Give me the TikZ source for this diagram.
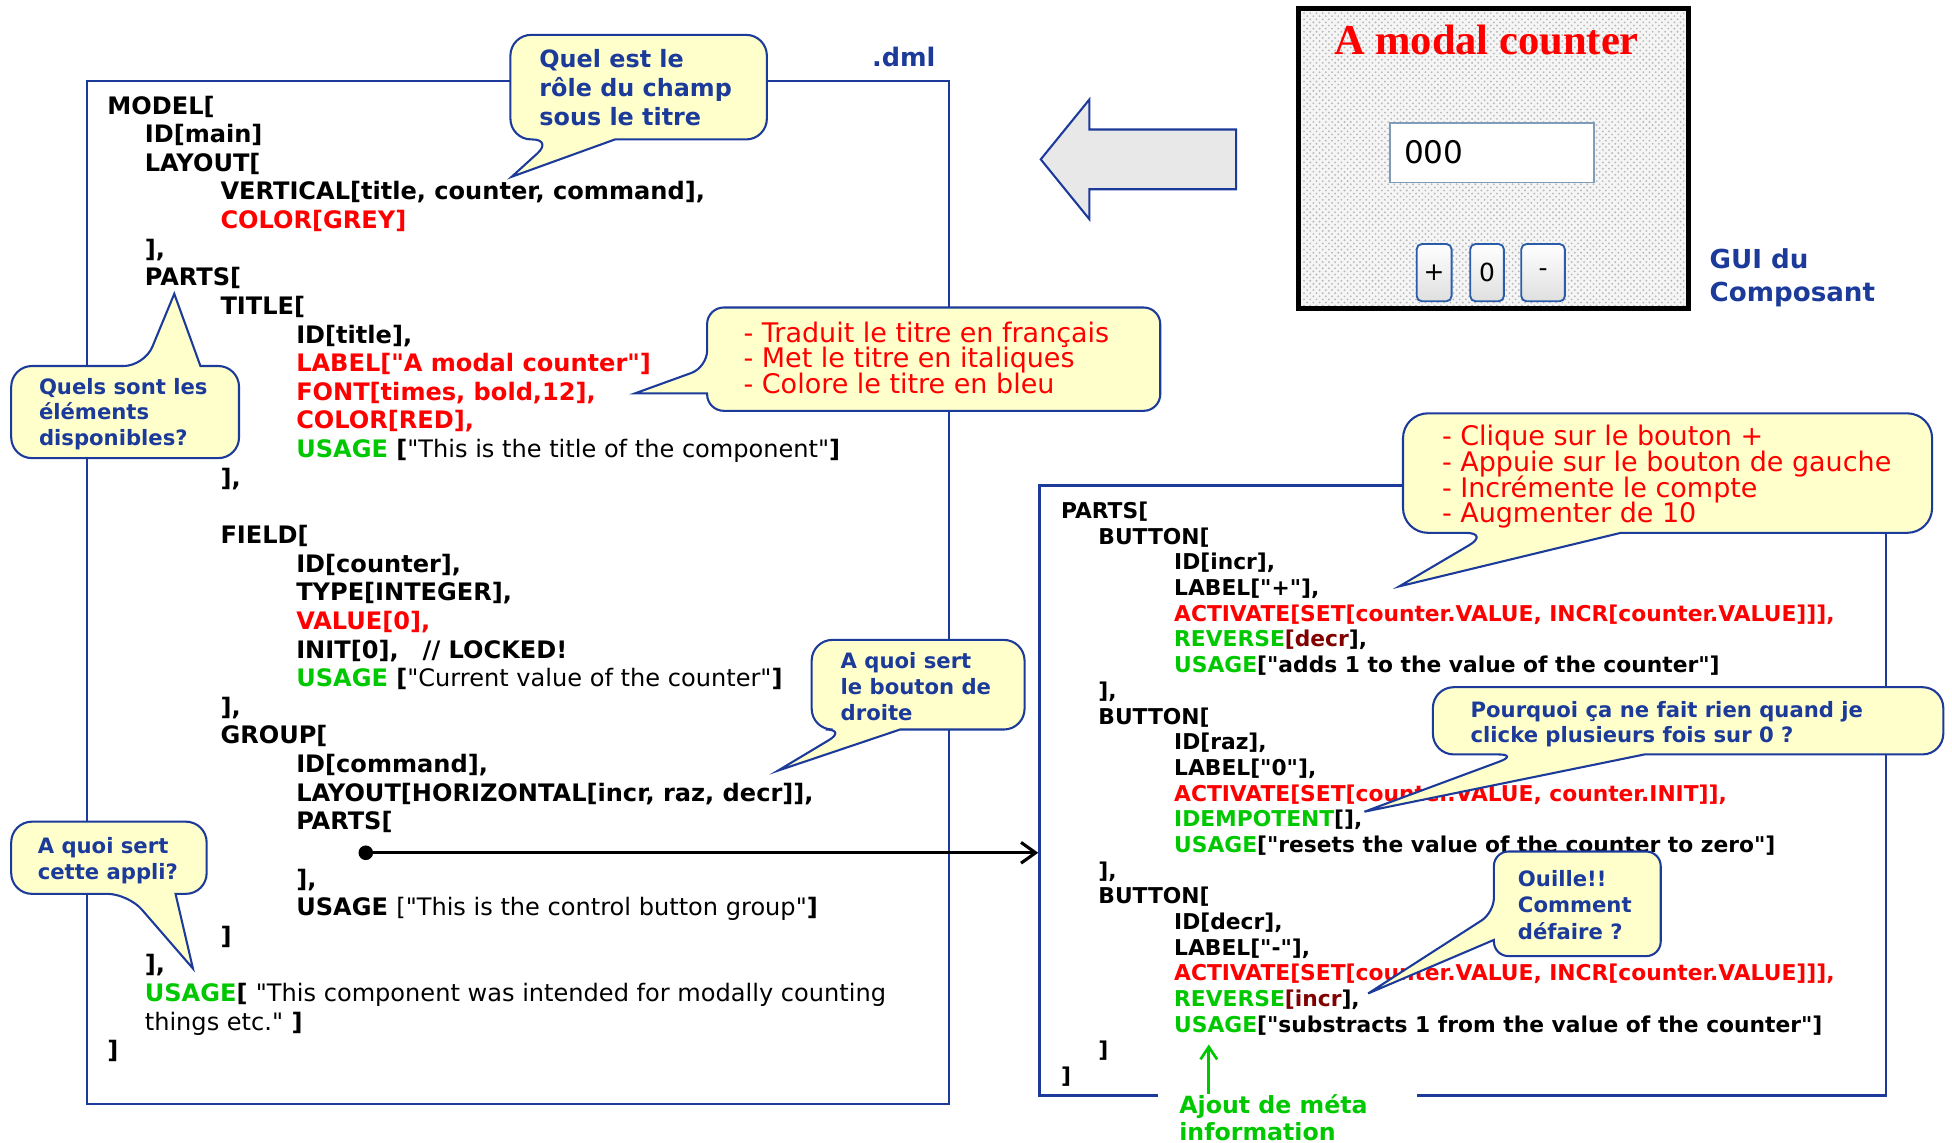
\documentclass[tikz,border=0pt]{standalone}
\usepackage{fontspec}
\setmainfont{DejaVu Sans}[Ligatures=TeXOff]
\newfontfamily\guiserif{Liberation Serif}
\usetikzlibrary{arrows.meta,positioning,calc,patterns,shapes}

\definecolor{dmlblue}{HTML}{1B3A9A}
\definecolor{dmlred}{HTML}{FF0000}
\definecolor{dmlgreen}{HTML}{00C800}
\definecolor{dmlmaroon}{HTML}{800000}
\definecolor{bubbleyellow}{HTML}{FFFFCC}
\definecolor{fieldgray}{HTML}{7F9DB9}
\definecolor{btnblue}{HTML}{2A5CAA}

\newcommand{\tabA}{\hspace*{18pt}}
\newcommand{\tabB}{\hspace*{54.5pt}}
\newcommand{\tabC}{\hspace*{91pt}}
\newcommand{\kred}[1]{\textcolor{dmlred}{#1}}
\newcommand{\kgreen}[1]{\textcolor{dmlgreen}{#1}}
\newcommand{\kmaroon}[1]{\textcolor{dmlmaroon}{#1}}
\newcommand{\plain}[1]{{\mdseries #1}}
\newcommand{\tightlines}{\lineskiplimit-20pt\relax}

\tikzset{
    codebox/.style={draw=dmlblue, line width=1pt},
    bubble/.style={draw=dmlblue, fill=bubbleyellow, line width=1pt},
    code/.style={align=left, anchor=west, inner sep=0pt,
        font=\bfseries\fontsize{11.6}{13.8}\selectfont\tightlines},
    qtext/.style={text=dmlblue, align=left, anchor=west, inner sep=0pt,
        font=\bfseries\fontsize{10.2}{12.4}\selectfont\tightlines},
    rtext/.style={text=dmlred, align=left, anchor=west, inner sep=0pt,
        font=\fontsize{13}{12.4}\selectfont\tightlines},
    guibtn/.style={draw=btnblue, line width=0.9pt, rounded corners=2.5pt,
        top color=white, bottom color=gray!25, minimum height=27.6pt,
        inner sep=0pt, font=\fontsize{12}{12}\selectfont},
}

\begin{document}
\begin{tikzpicture}[x=0.6pt, y=-0.6pt]
    \useasboundingbox (0,0) rectangle (1568,918);

    % the two code boxes
    \draw[codebox] (70,65) rectangle (762,887);
    \draw[codebox] (930,880) -- (835,880) -- (835,390) -- (1515,390) -- (1515,880) -- (1138,880);
    \node[text=dmlblue, font=\bfseries\fontsize{12.3}{14}\selectfont] (dml) at (726,46) {.dml};

    \node[code] (dml-code) at (86,465) {MODEL[\\
\tabA ID[main]\\
\tabA LAYOUT[\\
\tabB VERTICAL[title, counter, command],\\
\tabB \kred{COLOR[GREY]}\\
\tabA ],\\
\tabA PARTS[\\
\tabB TITLE[\\
\tabC ID[title],\\
\tabC \kred{LABEL["A modal counter"]}\\
\tabC \kred{FONT[times, bold,12],}\\
\tabC \kred{COLOR[RED],}\\
\tabC \kgreen{USAGE} [\plain{"This is the title of the component"}]\\
\tabB ],\\
\mbox{}\\
\tabB FIELD[\\
\tabC ID[counter],\\
\tabC TYPE[INTEGER],\\
\tabC \kred{VALUE[0],}\\
\tabC INIT[0],\hspace{1em}// LOCKED!\\
\tabC \kgreen{USAGE} [\plain{"Current value of the counter"}]\\
\tabB ],\\
\tabB GROUP[\\
\tabC ID[command],\\
\tabC LAYOUT[HORIZONTAL[incr, raz, decr]],\\
\tabC PARTS[\\
\mbox{}\\
\tabC ],\\
\tabC USAGE \plain{["This is the control button group"}]\\
\tabB ]\\
\tabA ],\\
\tabA \kgreen{USAGE}[ \plain{"This component was intended for modally counting}\\
\tabA \plain{things etc."} ]\\
]};

    \node[code, font=\bfseries\fontsize{10.5}{12.38}\selectfont\tightlines] (btn-code) at (852,638) {PARTS[\\
\tabA BUTTON[\\
\tabB ID[incr],\\
\tabB LABEL["+"],\\
\tabB \kred{ACTIVATE[SET[counter.VALUE, INCR[counter.VALUE]]],}\\
\tabB \kgreen{REVERSE}\kmaroon{[decr}],\\
\tabB \kgreen{USAGE}["adds 1 to the value of the counter"]\\
\tabA ],\\
\tabA BUTTON[\\
\tabB ID[raz],\\
\tabB LABEL["0"],\\
\tabB \kred{ACTIVATE[SET[counter.VALUE, counter.INIT]],}\\
\tabB \kgreen{IDEMPOTENT}[],\\
\tabB \kgreen{USAGE}["resets the value of the counter to zero"]\\
\tabA ],\\
\tabA BUTTON[\\
\tabB ID[decr],\\
\tabB LABEL["-"],\\
\tabB \kred{ACTIVATE[SET[counter.VALUE, INCR[counter.VALUE]]],}\\
\tabB \kgreen{REVERSE}\kmaroon{[incr}],\\
\tabB \kgreen{USAGE}["substracts 1 from the value of the counter"]\\
\tabA ]\\
]};

    % the component as it shows on screen
    \draw[line width=2.4pt, fill=gray!8] (1043,7) rectangle (1356,248);
    \fill[pattern=crosshatch dots, pattern color=gray!55] (1046,10) rectangle (1353,245);
    \node[text=dmlred, font=\guiserif\bfseries\fontsize{20.5}{22}\selectfont] (gui-title) at (1194,32) {A modal counter};
    \node[draw=fieldgray, fill=white, line width=0.8pt, minimum width=98.4pt, minimum height=28.8pt,
        inner sep=0pt, anchor=north west] (gui-field) at (1116,98) {};
    \node[anchor=west, font=\fontsize{15}{15}\selectfont] (gui-value) at (1122,122) {000};
    \node[guibtn, minimum width=16.8pt] (btn-plus) at (1152,219) {+};
    \node[guibtn, minimum width=16.2pt] (btn-zero) at (1194.5,219) {0};
    \node[guibtn, minimum width=21pt] (btn-minus) at (1239.5,219) {-};
    \node[text=dmlblue, align=left, anchor=west, inner sep=0pt,
        font=\bfseries\fontsize{12.6}{15.6}\selectfont] (gui-label) at (1373,223) {GUI du\\Composant};

    % big arrow from the GUI back to the code
    \draw[dmlblue, fill=gray!18, line width=1pt] (836,128) -- (875,80) -- (875,104) -- (993,104)
        -- (993,152) -- (875,152) -- (875,176) -- cycle;

    % the nested PARTS go to the second box
    \coordinate (grp-slot) at (288,685);
    \coordinate (btn-box) at (834,685);
    \draw[{Circle[length=7pt]}-{Straight Barb[length=7pt,width=10pt]}, line width=1.5pt] (grp-slot) -- (btn-box);

    % meta information
    \node[text=dmlgreen, align=left, anchor=west, inner sep=0pt,
        font=\bfseries\fontsize{11.4}{13.2}\selectfont] (meta) at (947,898) {Ajout de méta\\information};
    \coordinate (meta-tip) at (971,839);
    \draw[dmlgreen, line width=1.3pt, -{Straight Barb[length=6pt,width=8pt]}] (meta.north -| meta-tip) -- (meta-tip);

    % callouts
    \draw[bubble] (411,142) -- (494,112) [rounded corners=10pt] -- (616,112) -- (616,28) -- (410,28)
        -- (410,112) -- (444,112) [sharp corners] -- cycle;
    \node[qtext, font=\bfseries\fontsize{11.5}{14.1}\selectfont\tightlines] (q-role) at (433,70.5)
        {Quel est le\\rôle du champ\\sous le titre};

    \draw[bubble] (140,236) -- (161,294) [rounded corners=10pt] -- (192,294) -- (192,368) -- (9,368)
        -- (9,294) -- (116,294) [sharp corners] -- cycle;
    \node[qtext] (q-parts) at (31,332.5) {Quels sont les\\éléments\\disponibles?};

    \draw[bubble] (510,316) -- (568,316) [rounded corners=8pt] -- (568,330) -- (932,330) -- (932,247)
        -- (568,247) -- (568,295) [sharp corners] -- cycle;
    \node[rtext] (r-title) at (597,287.5) {- Traduit le titre en français\\- Met le titre en italiques\\- Colore le titre en bleu};

    \draw[bubble] (625,619) -- (723,586) [rounded corners=10pt] -- (823,586) -- (823,514) -- (652,514)
        -- (652,586) -- (680,586) [sharp corners] -- cycle;
    \node[qtext] (q-right) at (675,551.5) {A quoi sert\\le bouton de\\droite};

    \draw[bubble] (155,778) -- (141,718) [rounded corners=10pt] -- (166,718) -- (166,660) -- (9,660)
        -- (9,718) -- (103,718) [sharp corners] -- cycle;
    \node[qtext, font=\bfseries\fontsize{10.2}{12.6}\selectfont\tightlines] (q-appli) at (30,691.5) {A quoi sert\\cette appli?};

    \draw[bubble] (1124,471) -- (1302,428) [rounded corners=12pt] -- (1552,428) -- (1552,332) -- (1127,332)
        -- (1127,428) -- (1197,428) [sharp corners] -- cycle;
    \node[rtext] (r-plus) at (1158,383) {- Clique sur le bouton +\\- Appuie sur le bouton de gauche\\- Incrémente le compte\\- Augmenter de 10};

    \draw[bubble] (1096,652) -- (1321,606) [rounded corners=10pt] -- (1561,606) -- (1561,552) -- (1151,552)
        -- (1151,606) -- (1220,606) [sharp corners] -- cycle;
    \node[qtext, font=\bfseries\fontsize{10.2}{12}\selectfont\tightlines] (q-zero) at (1181,582) {Pourquoi ça ne fait rien quand je\\clicke plusieurs fois sur 0 ?};

    \draw[bubble] (1099,798) -- (1200,755) [rounded corners=7pt] -- (1200,768) -- (1334,768) -- (1334,684)
        -- (1200,684) -- (1200,733) [sharp corners] -- cycle;
    \node[qtext, font=\bfseries\fontsize{10.2}{12.6}\selectfont\tightlines] (q-undo) at (1219,727) {Ouille!!\\Comment\\défaire ?};
\end{tikzpicture}
\end{document}
